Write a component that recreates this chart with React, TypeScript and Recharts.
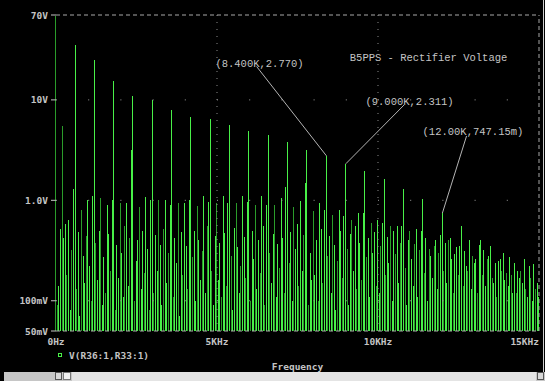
import React from 'react';
import { ComposedChart, Bar, Cell, XAxis, YAxis, ReferenceLine, ReferenceDot } from 'recharts';

// FFT of the rectifier voltage, one bar per spectral line (Hz, volts)
const HARMONIC_STEP = 600;
// peaks at 0, 600, 1200 ... 15000 Hz
const harmonicPeaks = [
  68, 35, 25, 15.5, 11, 10, 7.9, 6.8, 6.5, 5.6, 4.9, 4.5, 3.8,
  3.2, 2.77, 2.311, 1.96, 1.62, 1.3, 1.02, 0.747, 0.55, 0.4, 0.26, 0.17, 0.108,
];
// lines at +200 / +400 Hz after each 600 Hz harmonic
const sidePeaks = [
  5.5, 0.63, 0.81, 1.0, 1.05, 0.9, 0.93, 0.95, 0.85, 1.07,
  1.0, 1.0, 0.93, 0.93, 0.87, 1.1, 0.95, 1.1, 0.93, 1.1,
  0.89, 1.1, 0.9, 1.05, 0.86, 0.98, 0.78, 0.93, 0.71, 0.81,
  0.63, 0.74, 0.6, 0.64, 0.56, 0.56, 0.5, 0.52, 0.33, 0.4,
  0.4, 0.29, 0.2, 0.24, 0.26, 0.15, 0.19, 0.12, 0.13, 0.1,
];
// noise lines, one row per kHz: +50,+100,+150 Hz in each 200 Hz slot
const noiseFloor = [
  [0.09, 0.14, 0.52, 0.42, 0.58, 0.18, 0.08, 0.32, 1.3, 0.13, 0.48, 0.07, 0.28, 0.15, 0.44],
  [0.22, 0.1, 1.1, 0.38, 0.16, 0.5, 0.09, 0.27, 0.12, 0.46, 0.2, 1.0, 0.08, 0.36, 0.17],
  [0.3, 0.11, 0.55, 0.14, 0.42, 3.2, 0.1, 0.25, 0.4, 0.13, 0.5, 0.19, 0.33, 0.08, 1.0],
  [0.12, 0.45, 0.2, 0.36, 0.09, 0.52, 0.15, 0.3, 0.9, 0.11, 0.42, 0.24, 0.07, 0.48, 0.18],
  [0.35, 0.13, 1.0, 0.27, 0.5, 0.1, 0.4, 0.16, 0.31, 0.12, 0.56, 0.97, 0.2, 0.09, 0.44],
  [0.16, 0.38, 0.11, 0.47, 0.14, 0.95, 0.28, 0.08, 0.53, 0.34, 0.12, 0.22, 0.43, 0.17, 0.97],
  [0.1, 0.5, 0.26, 0.13, 0.4, 0.19, 0.55, 0.09, 0.9, 0.3, 0.15, 0.46, 0.11, 0.37, 0.21],
  [0.42, 0.12, 1.35, 0.24, 0.48, 0.1, 0.33, 0.58, 0.14, 0.2, 0.45, 1.5, 0.09, 0.3, 0.16],
  [0.18, 0.4, 0.1, 0.52, 0.15, 0.8, 0.28, 0.44, 0.12, 0.36, 0.08, 0.25, 0.5, 0.17, 0.7],
  [0.33, 0.09, 0.46, 0.2, 0.55, 0.13, 0.38, 0.16, 0.75, 0.27, 0.42, 0.11, 0.3, 0.48, 0.14],
  [0.12, 0.35, 0.6, 0.18, 0.43, 0.24, 0.1, 0.5, 0.29, 0.15, 0.38, 0.55, 0.21, 0.09, 0.4],
  [0.26, 0.14, 0.37, 0.11, 0.32, 0.5, 0.19, 0.42, 0.1, 0.28, 0.17, 0.35, 0.13, 0.3, 0.45],
  [0.2, 0.38, 0.15, 0.42, 0.26, 0.12, 0.34, 0.18, 0.35, 0.14, 0.31, 0.22, 0.4, 0.13, 0.28],
  [0.26, 0.12, 0.36, 0.18, 0.32, 0.14, 0.28, 0.35, 0.17, 0.24, 0.11, 0.25, 0.2, 0.3, 0.16],
  [0.14, 0.27, 0.18, 0.24, 0.12, 0.2, 0.2, 0.15, 0.26, 0.11, 0.22, 0.17, 0.23, 0.13, 0.15],
];

const xTicks = [0, 5000, 10000, 15000];
const xLabels = ['0Hz', '5KHz', '10KHz', '15KHz'];
const yTicks = [0.05, 0.1, 1, 10, 70];
const yLabels = ['50mV', '100mV', '1.0V', '10V', '70V'];
const traceName = 'V(R36:1,R33:1)';

const markers = [
  { f: 8400, v: 2.77, text: '(8.400K,2.770)', lead: { f: 6230, v: 21.5 }, at: { f: 6320, v: 23.2 } },
  { f: 9000, v: 2.311, text: '(9.000K,2.311)', lead: { f: 10810, v: 8.9 }, at: { f: 10980, v: 9.66 } },
  { f: 12000, v: 0.747, text: '(12.00K,747.15m)', lead: { f: 12750, v: 4.37 }, at: { f: 12950, v: 4.9 } },
];

const rows: { f: number; v: number }[] = [];
harmonicPeaks.forEach((v, k) => rows.push({ f: k * HARMONIC_STEP, v }));
sidePeaks.forEach((v, i) => rows.push({ f: Math.floor(i / 2) * HARMONIC_STEP + 200 * (1 + (i % 2)), v }));
noiseFloor.forEach((row, r) =>
  row.forEach((v, j) => rows.push({ f: r * 1000 + Math.floor(j / 3) * 200 + 50 * (1 + (j % 3)), v }))
);
rows.sort((a, b) => a.f - b.f);

const GREEN = '#48f048';
const DARK_GREEN = '#2a9c2a';
const GRAY = '#c4c4c4';
const AXIS_FONT = { fontFamily: '"DejaVu Sans Mono", monospace', fontSize: 9.5, fontWeight: 'bold' as const };
const NOTE_FONT = { fontFamily: '"Liberation Mono", monospace', fontSize: 10.5 };

const FreqTick = (props: any) => {
  const { x, y, payload } = props;
  const i = xTicks.indexOf(payload.value);
  const last = i === xTicks.length - 1;
  return (
    <text x={x} y={y + 14} textAnchor={last ? 'end' : 'middle'} fill={GRAY} {...AXIS_FONT}>
      {xLabels[i]}
    </text>
  );
};

const VoltTick = (props: any) => {
  const { x, y, payload } = props;
  const i = yTicks.indexOf(payload.value);
  return (
    <text x={x} y={y + 3.5} textAnchor="end" fill={GRAY} {...AXIS_FONT}>
      {yLabels[i]}
    </text>
  );
};

export default function App() {
  return (
    <div style={{ position: 'fixed', left: 0, top: 0, width: 545, height: 381, background: '#000', overflow: 'hidden' }}>
      <ComposedChart width={545} height={372} data={rows} margin={{ top: 15, right: 6, left: 0, bottom: 0 }}>
        <XAxis
          dataKey="f"
          type="number"
          domain={[0, 15000]}
          ticks={xTicks}
          tick={<FreqTick />}
          tickLine={false}
          axisLine={false}
          tickSize={0}
          tickMargin={0}
          height={41}
          interval={0}
          label={{ value: 'Frequency', position: 'insideBottom', offset: 2, fill: GRAY, ...AXIS_FONT }}
        />
        <YAxis
          type="number"
          scale="log"
          domain={[0.05, 70]}
          ticks={yTicks}
          tick={<VoltTick />}
          tickLine={{ stroke: GRAY }}
          tickSize={5}
          tickMargin={3}
          axisLine={false}
          width={56}
          interval={0}
        />
        {[10, 1, 0.1].map((y) => (
          <ReferenceLine key={y} y={y} stroke="#9a9a9a" strokeDasharray="1 31.2" />
        ))}
        {[5000, 10000].map((x) => (
          <ReferenceLine key={x} x={x} stroke="#8a8a8a" strokeDasharray="1 6" />
        ))}
        <ReferenceLine y={70} stroke="#a8a8a8" strokeDasharray="4 3" />
        <ReferenceLine y={0.05} stroke="#a8a8a8" strokeDasharray="4 3" />
        <ReferenceLine x={15000} stroke="#a8a8a8" strokeDasharray="4 3" />
        <Bar dataKey="v" name={traceName} fill={GREEN} barSize={1} shapeRendering="crispEdges" isAnimationActive={false}>
          {rows.map((r, i) => (
            <Cell key={r.f} fill={i % 3 === 1 || r.f === 0 ? DARK_GREEN : GREEN} />
          ))}
        </Bar>
        {markers.map((m) => (
          <ReferenceLine
            key={m.text + '-lead'}
            segment={[{ x: m.f, y: m.v }, { x: m.lead.f, y: m.lead.v }]}
            stroke="#b4b4b4"
          />
        ))}
        {markers.map((m) => (
          <ReferenceDot
            key={m.text}
            x={m.at.f}
            y={m.at.v}
            r={0}
            fill="none"
            stroke="none"
            label={{ value: m.text, position: 'center', fill: GRAY, ...NOTE_FONT }}
          />
        ))}
        <ReferenceDot
          x={11570}
          y={26.3}
          r={0}
          fill="none"
          stroke="none"
          label={{ value: 'B5PPS - Rectifier Voltage', position: 'center', fill: GRAY, ...NOTE_FONT }}
        />
      </ComposedChart>
      <div style={{ position: 'absolute', left: 56, top: 349, height: 12, display: 'flex', alignItems: 'center', color: GRAY, ...AXIS_FONT }}>
        <span style={{ display: 'inline-block', width: 2, height: 2, border: `1px solid ${GREEN}`, marginLeft: 2, marginRight: 7 }} />
        <span>{traceName}</span>
      </div>
      <div style={{ position: 'absolute', left: 543, top: 0, width: 1, height: 372, background: '#d0d0d0' }} />
      <div style={{ position: 'absolute', left: 0, top: 372, width: 545, height: 9, background: '#c6c6c6' }}>
        <div style={{ position: 'absolute', left: 0, top: 0, width: 4, height: 9, background: '#000' }} />
        <div style={{ position: 'absolute', left: 55, top: 0, width: 7, height: 8, background: '#d8d8d8', border: '1px solid #555', boxSizing: 'border-box' }} />
        <div style={{ position: 'absolute', left: 63, top: 0, width: 8, height: 8, background: '#f0f0f0', border: '1px solid #777', boxSizing: 'border-box' }} />
        <div style={{ position: 'absolute', left: 72, top: 0, width: 464, height: 9, background: '#e4e4e4' }} />
        <div style={{ position: 'absolute', left: 537, top: 0, width: 7, height: 8, background: '#d8d8d8', border: '1px solid #555', boxSizing: 'border-box' }} />
      </div>
    </div>
  );
}
